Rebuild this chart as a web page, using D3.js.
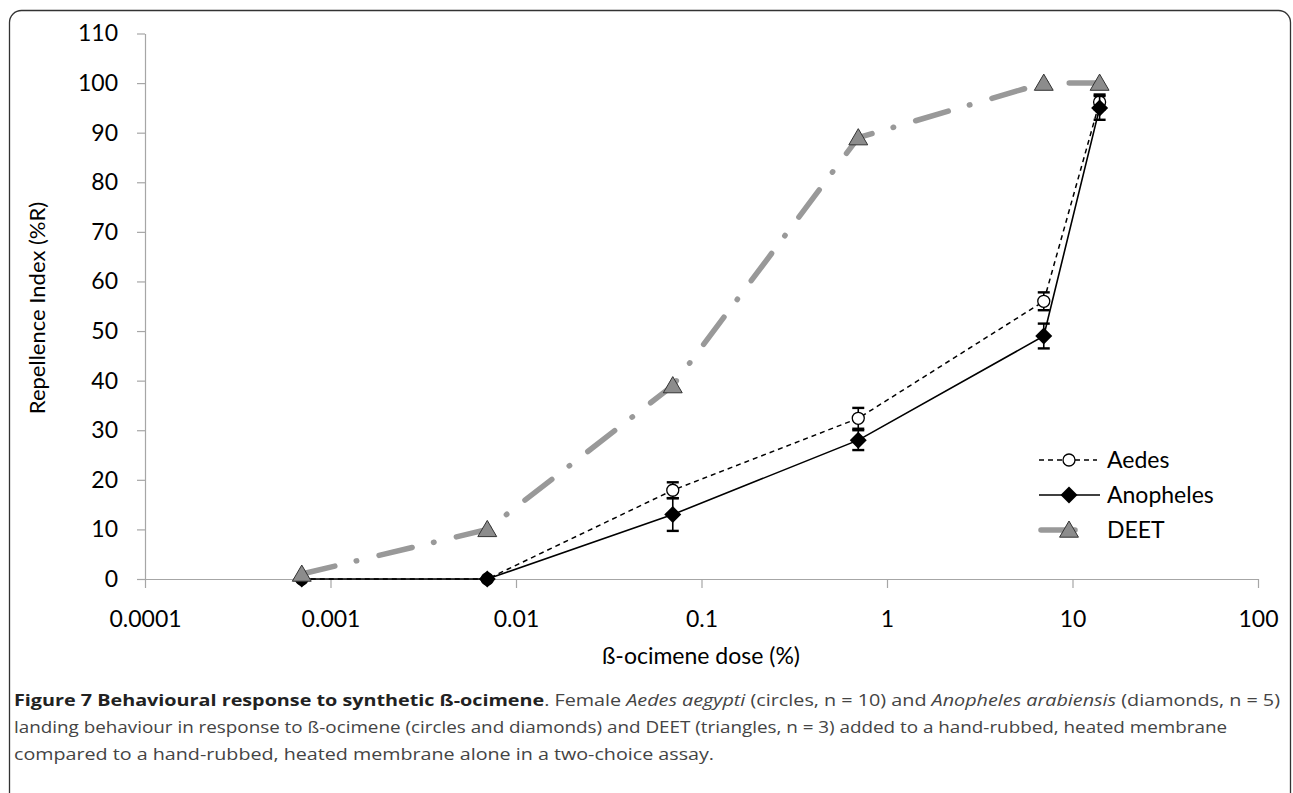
<!DOCTYPE html>
<html>
<head>
<meta charset="utf-8">
<script src="https://cdn.jsdelivr.net/npm/d3@7"></script>
<style>
  body { margin: 0; background: #fff; }
  svg { display: block; }
</style>
</head>
<body>
<div id="chart"></div>
<script>
// dose (%) on a log axis
const doses = [0.0007, 0.007, 0.07, 0.7, 7, 14];
const aedes = [0, 0, 17.9, 32.4, 56, 96.2];
const aedesErr = [0, 0, 1.6, 2.1, 1.8, 1.5];
const anopheles = [0, 0, 13, 28, 49, 95];
const anophelesErr = [0, 0, 3.3, 2.0, 2.5, 2.4];
const deet = [1, 10, 39, 89, 100, 100];

const seriesNames = ['Aedes', 'Anopheles', 'DEET'];
const yTicks = [0, 10, 20, 30, 40, 50, 60, 70, 80, 90, 100, 110];
const xTicks = [0.0001, 0.001, 0.01, 0.1, 1, 10, 100];
const xTickLabels = ['0.0001', '0.001', '0.01', '0.1', '1', '10', '100'];

const width = 1293;
const height = 793;
const font = 'Lato, "Open Sans", sans-serif';
const axisGrey = '#a6a6a6';

const svg = d3.select('#chart')
  .append('svg')
  .attr('width', width)
  .attr('height', height);

// frame round the figure
svg.append('rect')
  .attr('x', 9.5).attr('y', 10.5)
  .attr('width', 1281).attr('height', 820)
  .attr('rx', 12)
  .attr('fill', 'none')
  .attr('stroke', '#333')
  .attr('stroke-width', 1.3);

const x = d3.scaleLog().domain([0.0001, 100]).range([145, 1258]);
const y = d3.scaleLinear().domain([0, 110]).range([579, 33.5]);

// axes
const yAxis = svg.append('g')
  .attr('transform', 'translate(145,0)')
  .call(d3.axisLeft(y).tickValues(yTicks).tickSize(8).tickSizeOuter(0).tickPadding(19));

const xAxis = svg.append('g')
  .attr('transform', `translate(0,${y(0)})`)
  .call(d3.axisBottom(x).tickValues(xTicks).tickSize(9).tickSizeOuter(0).tickPadding(23)
    .tickFormat((d, i) => xTickLabels[i]));

[yAxis, xAxis].forEach(g => {
  g.select('.domain').attr('stroke', axisGrey).attr('stroke-width', 1.2);
  g.selectAll('.tick line').attr('stroke', axisGrey).attr('stroke-width', 1.2);
  g.selectAll('.tick text')
    .attr('fill', '#000')
    .style('font-family', font)
    .style('font-size', '23px');
});
xAxis.select('.domain').attr('d', `M137,0.5H1258`);

// axis titles
svg.append('text')
  .attr('x', 701).attr('y', 664)
  .attr('text-anchor', 'middle')
  .style('font-family', font).style('font-size', '23px')
  .text('ß-ocimene dose (%)');

svg.append('text')
  .attr('transform', 'rotate(-90)')
  .attr('x', -308).attr('y', 45)
  .attr('text-anchor', 'middle')
  .style('font-family', font).style('font-size', '22px')
  .text('Repellence Index (%R)');

// series
const toPoints = (vals, errs) => doses.map((d, i) => ({ dose: d, v: vals[i], e: errs ? errs[i] : 0 }));
const aedesPts = toPoints(aedes, aedesErr);
const anophelesPts = toPoints(anopheles, anophelesErr);
const deetPts = toPoints(deet);

const line = d3.line()
  .x(d => x(d.dose))
  .y(d => y(d.v));

const diamond = s => `M0,${-s}L${s},0L0,${s}L${-s},0Z`;
const triangle = s => `M0,${-s}L${s * 1.05},${s * 0.8}L${-s * 1.05},${s * 0.8}Z`;

function errorBars(pts) {
  const g = svg.append('g');
  pts.filter(d => d.e > 0).forEach(d => {
    const cx = x(d.dose);
    const top = y(d.v + d.e), bot = y(d.v - d.e);
    g.append('line').attr('x1', cx).attr('x2', cx).attr('y1', top).attr('y2', bot)
      .attr('stroke', '#000').attr('stroke-width', 1.6);
    [top, bot].forEach(yy => g.append('line')
      .attr('x1', cx - 6).attr('x2', cx + 6).attr('y1', yy).attr('y2', yy)
      .attr('stroke', '#000').attr('stroke-width', 2.4));
  });
}

// Aedes: dashed line, open circles
svg.append('path').datum(aedesPts)
  .attr('d', line).attr('fill', 'none')
  .attr('stroke', '#000').attr('stroke-width', 1.5).attr('stroke-dasharray', '5,4');
errorBars(aedesPts);
svg.selectAll('.aedes').data(aedesPts).enter().append('circle')
  .attr('cx', d => x(d.dose)).attr('cy', d => y(d.v)).attr('r', 6)
  .attr('fill', '#fff').attr('stroke', '#000').attr('stroke-width', 1.3);

// Anopheles: solid line, black diamonds
svg.append('path').datum(anophelesPts)
  .attr('d', line).attr('fill', 'none')
  .attr('stroke', '#000').attr('stroke-width', 1.6);
errorBars(anophelesPts);
svg.selectAll('.anoph').data(anophelesPts).enter().append('path')
  .attr('transform', d => `translate(${x(d.dose)},${y(d.v)})`)
  .attr('d', diamond(8.5)).attr('fill', '#000');

// DEET: thick grey dash-dot line, grey triangles
svg.append('path').datum(deetPts)
  .attr('d', line).attr('fill', 'none')
  .attr('stroke', '#999').attr('stroke-width', 5.5)
  .attr('stroke-linecap', 'round')
  .attr('stroke-dasharray', '34,22,0.5,23');
svg.selectAll('.deet').data(deetPts).enter().append('path')
  .attr('transform', d => `translate(${x(d.dose)},${y(d.v)})`)
  .attr('d', triangle(9)).attr('fill', '#8c8c8c')
  .attr('stroke', '#333').attr('stroke-width', 1);

// legend
const legendY = [460, 495, 530];
const legend = svg.append('g');
seriesNames.forEach((name, i) => {
  const ly = legendY[i];
  const g = legend.append('g');
  if (i === 0) {
    g.append('line').attr('x1', 1039).attr('x2', 1097).attr('y1', ly).attr('y2', ly)
      .attr('stroke', '#000').attr('stroke-width', 1.5).attr('stroke-dasharray', '5,4');
    g.append('circle').attr('cx', 1069).attr('cy', ly).attr('r', 6)
      .attr('fill', '#fff').attr('stroke', '#000').attr('stroke-width', 1.3);
  } else if (i === 1) {
    g.append('line').attr('x1', 1039).attr('x2', 1100).attr('y1', ly).attr('y2', ly)
      .attr('stroke', '#000').attr('stroke-width', 1.6);
    g.append('path').attr('transform', `translate(1069,${ly})`).attr('d', diamond(8.5)).attr('fill', '#000');
  } else {
    g.append('line').attr('x1', 1041).attr('x2', 1097).attr('y1', ly).attr('y2', ly)
      .attr('stroke', '#999').attr('stroke-width', 5.5).attr('stroke-linecap', 'round')
      .attr('stroke-dasharray', '34,22,0.5,23');
    g.append('path').attr('transform', `translate(1069,${ly})`).attr('d', triangle(9))
      .attr('fill', '#8c8c8c').attr('stroke', '#333').attr('stroke-width', 1);
  }
  g.append('text').attr('x', 1107).attr('y', ly).attr('dy', '0.35em')
    .style('font-family', font).style('font-size', '23px')
    .text(name);
});

// caption
const capFont = '"Liberation Sans Narrow", "Open Sans", sans-serif';
const caption = svg.append('g')
  .style('font-family', capFont).style('font-size', '16px').attr('fill', '#444');

const c1 = caption.append('text').attr('x', 14).attr('y', 706)
  .attr('textLength', 1266).attr('lengthAdjust', 'spacingAndGlyphs');
c1.append('tspan').attr('font-weight', 'bold').attr('fill', '#222')
  .text('Figure 7 Behavioural response to synthetic ß-ocimene');
c1.append('tspan').text('. Female ');
c1.append('tspan').attr('font-style', 'italic').text('Aedes aegypti');
c1.append('tspan').text(' (circles, n = 10) and ');
c1.append('tspan').attr('font-style', 'italic').text('Anopheles arabiensis');
c1.append('tspan').text(' (diamonds, n = 5)');

caption.append('text').attr('x', 14).attr('y', 733)
  .attr('textLength', 1213).attr('lengthAdjust', 'spacingAndGlyphs')
  .text('landing behaviour in response to ß-ocimene (circles and diamonds) and DEET (triangles, n = 3) added to a hand-rubbed, heated membrane');

caption.append('text').attr('x', 14).attr('y', 760)
  .attr('textLength', 700).attr('lengthAdjust', 'spacingAndGlyphs')
  .text('compared to a hand-rubbed, heated membrane alone in a two-choice assay.');
</script>
</body>
</html>
